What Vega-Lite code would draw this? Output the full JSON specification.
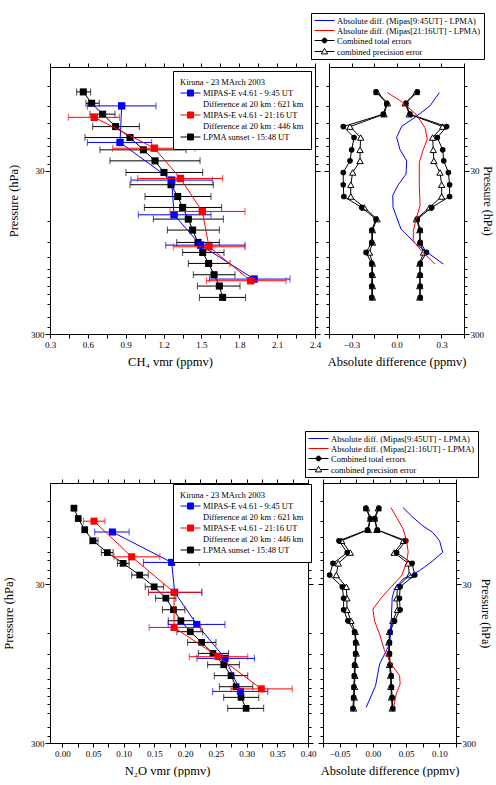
{
"$schema": "https://vega.github.io/schema/vega-lite/v6.json",
"padding": {"left": 2, "top": 12, "right": 0, "bottom": 0},
"background": "white",
"config": {
 "font": "Liberation Serif",
 "view": {"stroke": "black", "strokeWidth": 1},
 "axis": {"labelFont": "Liberation Serif", "titleFont": "Liberation Serif", "labelFontSize": 9, "titleFontSize": 12.5, "titleFontWeight": "normal", "labelColor": "black", "titleColor": "black", "domainColor": "black", "tickColor": "black", "grid": false, "tickSize": 3, "labelPadding": 2, "labelOverlap": false, "labelFlush": false},
 "legend": {"labelFont": "Liberation Serif", "titleFont": "Liberation Serif", "labelFontSize": 8.5, "titleFontSize": 8.5, "titleFontWeight": "normal", "labelColor": "black", "titleColor": "black", "strokeColor": "black", "fillColor": "white", "symbolStrokeWidth": 1, "symbolSize": 64, "labelLimit": 300, "rowPadding": 1, "labelOffset": 14}
},
"datasets": {
 "tl_l": [
  {"p":9.85,"x":0.564,"lo":0.511,"hi":0.622},{"p":11.56,"x":0.63,"lo":0.585,"hi":0.69},{"p":13.49,"x":0.717,"lo":0.617,"hi":0.815},{"p":16.07,"x":0.82,"lo":0.638,"hi":1.008},{"p":18.75,"x":0.934,"lo":0.577,"hi":1.29},{"p":22.31,"x":1.04,"lo":0.696,"hi":1.378},{"p":26.06,"x":1.132,"lo":0.775,"hi":1.489},{"p":30.7,"x":1.203,"lo":0.902,"hi":1.51},{"p":36.5,"x":1.259,"lo":0.934,"hi":1.594},{"p":43.1,"x":1.312,"lo":1.053,"hi":1.576},{"p":50.3,"x":1.351,"lo":1.048,"hi":1.66},{"p":59.3,"x":1.396,"lo":1.119,"hi":1.674},{"p":69.2,"x":1.43,"lo":1.23,"hi":1.642},{"p":82.4,"x":1.473,"lo":1.304,"hi":1.642},{"p":94.9,"x":1.51,"lo":1.351,"hi":1.679},{"p":110.8,"x":1.557,"lo":1.396,"hi":1.726},{"p":130,"x":1.6,"lo":1.436,"hi":1.766},{"p":152.5,"x":1.642,"lo":1.468,"hi":1.806},{"p":179,"x":1.668,"lo":1.484,"hi":1.85}
 ],
 "tl_b": [
  {"p":12.0,"x":0.868,"lo":0.596,"hi":1.14},{"p":20.1,"x":0.855,"lo":0.596,"hi":1.106},{"p":34.2,"x":1.264,"lo":0.942,"hi":1.586},{"p":55.8,"x":1.283,"lo":1.0,"hi":1.576},{"p":85.6,"x":1.494,"lo":1.217,"hi":1.845},{"p":138.2,"x":1.917,"lo":1.563,"hi":2.202}
 ],
 "tl_r": [
  {"p":14.1,"x":0.651,"lo":0.445,"hi":0.849},{"p":21.8,"x":1.127,"lo":0.797,"hi":1.449},{"p":33.4,"x":1.333,"lo":0.995,"hi":1.668},{"p":53.2,"x":1.507,"lo":1.251,"hi":1.845},{"p":87.6,"x":1.56,"lo":1.277,"hi":1.845},{"p":141.5,"x":1.89,"lo":1.541,"hi":2.17}
 ],
 "tr_e": [
  {"p":9.85,"tlo":-0.137,"thi":0.139,"plo":-0.13,"phi":0.132},{"p":11.56,"tlo":-0.065,"thi":0.063,"plo":-0.06,"phi":0.058},{"p":13.49,"tlo":-0.088,"thi":0.09,"plo":-0.083,"phi":0.085},{"p":16.07,"tlo":-0.355,"thi":0.334,"plo":-0.31,"phi":0.308},{"p":18.75,"tlo":-0.283,"thi":0.272,"plo":-0.239,"phi":0.241},{"p":22.31,"tlo":-0.299,"thi":0.308,"plo":-0.243,"phi":0.245},{"p":26.06,"tlo":-0.31,"thi":0.315,"plo":-0.243,"phi":0.249},{"p":30.7,"tlo":-0.355,"thi":0.346,"plo":-0.292,"phi":0.29},{"p":36.5,"tlo":-0.355,"thi":0.354,"plo":-0.305,"phi":0.301},{"p":43.1,"tlo":-0.351,"thi":0.354,"plo":-0.305,"phi":0.301},{"p":50.3,"tlo":-0.232,"thi":0.235,"plo":-0.215,"phi":0.22},{"p":59.3,"tlo":-0.137,"thi":0.139,"plo":-0.13,"phi":0.132},{"p":69.2,"tlo":-0.165,"thi":0.158,"plo":-0.16,"phi":0.155},{"p":82.4,"tlo":-0.165,"thi":0.158,"plo":-0.16,"phi":0.155},{"p":94.9,"tlo":-0.203,"thi":0.2,"plo":-0.18,"phi":0.18},{"p":110.8,"tlo":-0.165,"thi":0.158,"plo":-0.16,"phi":0.155},{"p":130,"tlo":-0.165,"thi":0.158,"plo":-0.16,"phi":0.155},{"p":152.5,"tlo":-0.165,"thi":0.158,"plo":-0.16,"phi":0.155},{"p":179,"tlo":-0.165,"thi":0.158,"plo":-0.16,"phi":0.155}
 ],
 "tr_b": [
  {"p":9.95,"v":0.286},{"p":12.0,"v":0.223},{"p":14.1,"v":0.123},{"p":16.0,"v":0.035},{"p":18.7,"v":0.001},{"p":22.2,"v":0.023},{"p":26.1,"v":0.068},{"p":31.5,"v":0.063},{"p":36.5,"v":0.012},{"p":42.4,"v":-0.025},{"p":50.3,"v":-0.023},{"p":68.3,"v":0.03},{"p":84.4,"v":0.13},{"p":111.8,"v":0.312}
 ],
 "tr_r": [
  {"p":9.95,"v":-0.061},{"p":11.3,"v":0.035},{"p":13.5,"v":0.13},{"p":16.3,"v":0.19},{"p":19.2,"v":0.205},{"p":22.7,"v":0.175},{"p":26.7,"v":0.152},{"p":36.9,"v":0.152},{"p":49,"v":0.157},{"p":59.5,"v":0.13},{"p":70.4,"v":0.112},{"p":80.5,"v":0.112},{"p":93.2,"v":0.168},{"p":111.8,"v":0.257}
 ],
 "bl_l": [
  {"p":9.98,"x":0.019,"lo":0.017,"hi":0.021},{"p":11.6,"x":0.026,"lo":0.023,"hi":0.029},{"p":13.65,"x":0.0365,"lo":0.033,"hi":0.04},{"p":16.0,"x":0.05,"lo":0.0452,"hi":0.0582},{"p":19.0,"x":0.0734,"lo":0.0636,"hi":0.0827},{"p":22.2,"x":0.099,"lo":0.0898,"hi":0.1088},{"p":26.3,"x":0.126,"lo":0.113,"hi":0.14},{"p":31.2,"x":0.1496,"lo":0.135,"hi":0.165},{"p":36.8,"x":0.1686,"lo":0.152,"hi":0.185},{"p":43.5,"x":0.181,"lo":0.163,"hi":0.1996},{"p":51.0,"x":0.193,"lo":0.1725,"hi":0.2138},{"p":59.8,"x":0.2084,"lo":0.1866,"hi":0.2285},{"p":69.8,"x":0.2268,"lo":0.204,"hi":0.2502},{"p":81.9,"x":0.2453,"lo":0.2214,"hi":0.2704},{"p":96.5,"x":0.2628,"lo":0.2366,"hi":0.2883},{"p":113,"x":0.2747,"lo":0.2475,"hi":0.3019},{"p":132.7,"x":0.2829,"lo":0.2557,"hi":0.3101},{"p":154.9,"x":0.291,"lo":0.2628,"hi":0.3199},{"p":181.6,"x":0.2992,"lo":0.2693,"hi":0.3278}
 ],
 "bl_b": [
  {"p":14.1,"x":0.0816,"lo":0.0528,"hi":0.1088},{"p":21.9,"x":0.178,"lo":0.1322,"hi":0.223},{"p":33.8,"x":0.183,"lo":0.1404,"hi":0.2274},{"p":53.8,"x":0.219,"lo":0.1724,"hi":0.2649},{"p":88.0,"x":0.265,"lo":0.2192,"hi":0.3128},{"p":142,"x":0.29,"lo":0.2448,"hi":0.3346}
 ],
 "bl_r": [
  {"p":12.05,"x":0.0517,"lo":0.0343,"hi":0.0696},{"p":20.2,"x":0.113,"lo":0.0843,"hi":0.1588},{"p":33.8,"x":0.182,"lo":0.1404,"hi":0.2268},{"p":56.2,"x":0.182,"lo":0.1414,"hi":0.2258},{"p":85.9,"x":0.254,"lo":0.2067,"hi":0.3019},{"p":137,"x":0.324,"lo":0.2747,"hi":0.3743}
 ],
 "br_e": [
  {"p":9.98,"tlo":-0.0105,"thi":0.009,"plo":-0.0095,"phi":0.008},{"p":11.6,"tlo":-0.004,"thi":0.003,"plo":-0.0035,"phi":0.0025},{"p":13.65,"tlo":-0.008,"thi":0.0065,"plo":-0.007,"phi":0.006},{"p":16.0,"tlo":-0.051,"thi":0.0496,"plo":-0.047,"phi":0.046},{"p":19.0,"tlo":-0.0386,"thi":0.0356,"plo":-0.034,"phi":0.032},{"p":22.2,"tlo":-0.06,"thi":0.059,"plo":-0.052,"phi":0.053},{"p":26.3,"tlo":-0.065,"thi":0.063,"plo":-0.055,"phi":0.055},{"p":31.2,"tlo":-0.046,"thi":0.041,"plo":-0.04,"phi":0.037},{"p":36.8,"tlo":-0.044,"thi":0.04,"plo":-0.039,"phi":0.036},{"p":43.5,"tlo":-0.044,"thi":0.041,"plo":-0.039,"phi":0.037},{"p":51.0,"tlo":-0.0376,"thi":0.0326,"plo":-0.033,"phi":0.03},{"p":59.8,"tlo":-0.0276,"thi":0.026,"plo":-0.0265,"phi":0.025},{"p":69.8,"tlo":-0.026,"thi":0.025,"plo":-0.025,"phi":0.024},{"p":81.9,"tlo":-0.026,"thi":0.025,"plo":-0.025,"phi":0.024},{"p":96.5,"tlo":-0.0276,"thi":0.026,"plo":-0.0265,"phi":0.025},{"p":113,"tlo":-0.028,"thi":0.0276,"plo":-0.027,"phi":0.0266},{"p":132.7,"tlo":-0.0286,"thi":0.028,"plo":-0.0276,"phi":0.027},{"p":154.9,"tlo":-0.029,"thi":0.029,"plo":-0.028,"phi":0.028},{"p":181.6,"tlo":-0.03,"thi":0.03,"plo":-0.029,"phi":0.029}
 ],
 "br_b": [
  {"p":9.88,"v":0.0451},{"p":11.4,"v":0.0602},{"p":12.9,"v":0.0752},{"p":14.2,"v":0.0902},{"p":16.0,"v":0.1003},{"p":18.95,"v":0.105},{"p":21.4,"v":0.0902},{"p":24.7,"v":0.0702},{"p":27.9,"v":0.0451},{"p":32.3,"v":0.0326},{"p":36.6,"v":0.029},{"p":49.8,"v":0.0278},{"p":71.6,"v":0.0251},{"p":82.7,"v":0.0176},{"p":95.6,"v":0.0101},{"p":131,"v":0.004},{"p":179,"v":-0.0101}
 ],
 "br_r": [
  {"p":9.88,"v":0.0271},{"p":11.4,"v":0.0356},{"p":13.5,"v":0.0456},{"p":16.0,"v":0.0507},{"p":18.8,"v":0.0531},{"p":21.9,"v":0.0507},{"p":26.6,"v":0.0432},{"p":30.9,"v":0.0286},{"p":36.4,"v":0.0131},{"p":43.1,"v":0.0},{"p":51.3,"v":0.0026},{"p":61.9,"v":0.0101},{"p":78.8,"v":0.0176},{"p":95.6,"v":0.0275},{"p":113,"v":0.0402},{"p":127.7,"v":0.041},{"p":147.6,"v":0.035},{"p":179,"v":0.0311}
 ]
},
"spacing": 62,
"resolve": {"scale": {"x": "independent", "y": "independent", "shape": "independent", "fill": "independent", "stroke": "independent"}, "legend": {"shape": "independent", "fill": "independent", "stroke": "independent"}},
"vconcat": [
 {
  "hconcat": [
   {
    "width": 265, "height": 267,
    "resolve": {"axis": {"x": "independent", "y": "independent"}},
    "layer": [
     {"data": {"name": "tl_l"}, "mark": {"type": "errorbar", "color": "black", "thickness": 1, "ticks": {"size": 7}},
      "encoding": {"x": {"field": "lo", "type": "quantitative", "scale": {"domain": [0.3, 2.4], "nice": false, "zero": false}, "axis": null}, "x2": {"field": "hi"}, "y": {"field": "p", "type": "quantitative", "scale": {"type": "log", "domain": [6.93, 300], "reverse": true, "nice": false}, "axis": null}}},
     {"data": {"name": "tl_l"}, "mark": {"type": "line", "color": "black", "strokeWidth": 1},
      "encoding": {"x": {"field": "x", "type": "quantitative", "scale": {"domain": [0.3, 2.4], "nice": false, "zero": false},
        "axis": {"orient": "bottom", "values": [0.3,0.45,0.6,0.75,0.9,1.05,1.2,1.35,1.5,1.65,1.8,1.95,2.1,2.25,2.4], "labelExpr": "abs(datum.value*10/3 - round(datum.value*10/3)) < 0.01 ? format(datum.value, '.1f') : ''", "title": "CH₄ vmr (ppmv)", "titlePadding": 6, "titleX": 120, "tickSize": 4}},
       "y": {"field": "p", "type": "quantitative", "scale": {"type": "log", "domain": [6.93, 300], "reverse": true, "nice": false},
        "axis": {"orient": "left", "values": [9.05,12,15.2,18.8,21.1,24.3,27.3,30,60.6,82.3,101.6,119.4,134.9,151.5,170.6,195.4,237.3,273,300], "format": ".0f", "labelExpr": "datum.value == 30 || datum.value == 300 ? datum.label : ''", "title": "Pressure (hPa)", "titlePadding": 10, "labelPadding": 1, "tickSize": {"condition": {"test": "datum.value == 30 || datum.value == 300", "value": 5}, "value": 3}}},
       "order": {"field": "p", "type": "quantitative"}}},
     {"data": {"name": "tl_l"}, "mark": {"type": "square", "color": "black", "size": 50, "opacity": 1},
      "encoding": {"x": {"field": "x", "type": "quantitative", "scale": {"domain": [0.3, 2.4], "nice": false, "zero": false},
        "axis": {"orient": "top", "values": [0.3,0.45,0.6,0.75,0.9,1.05,1.2,1.35,1.5,1.65,1.8,1.95,2.1,2.25,2.4], "labels": false, "title": null, "tickSize": 4}},
       "y": {"field": "p", "type": "quantitative", "scale": {"type": "log", "domain": [6.93, 300], "reverse": true, "nice": false},
        "axis": {"orient": "right", "values": [9.05,12,15.2,18.8,21.1,24.3,27.3,30,60.6,82.3,101.6,119.4,134.9,151.5,170.6,195.4,237.3,273,300], "labels": false, "title": null, "tickSize": {"condition": {"test": "datum.value == 30 || datum.value == 300", "value": 5}, "value": 3}}}}},
     {"data": {"name": "tl_b"}, "mark": {"type": "errorbar", "color": "#0000ff", "thickness": 1, "ticks": {"size": 7}},
      "encoding": {"x": {"field": "lo", "type": "quantitative", "axis": null}, "x2": {"field": "hi"}, "y": {"field": "p", "type": "quantitative", "axis": null}}},
     {"data": {"name": "tl_b"}, "mark": {"type": "line", "color": "#0000ff", "strokeWidth": 1},
      "encoding": {"x": {"field": "x", "type": "quantitative", "axis": null}, "y": {"field": "p", "type": "quantitative", "axis": null}, "order": {"field": "p", "type": "quantitative"}}},
     {"data": {"name": "tl_b"}, "mark": {"type": "square", "color": "#0000ff", "size": 55, "opacity": 1},
      "encoding": {"x": {"field": "x", "type": "quantitative", "axis": null}, "y": {"field": "p", "type": "quantitative", "axis": null}}},
     {"data": {"name": "tl_r"}, "mark": {"type": "errorbar", "color": "#ff0000", "thickness": 1, "ticks": {"size": 7}},
      "encoding": {"x": {"field": "lo", "type": "quantitative", "axis": null}, "x2": {"field": "hi"}, "y": {"field": "p", "type": "quantitative", "axis": null}}},
     {"data": {"name": "tl_r"}, "mark": {"type": "line", "color": "#ff0000", "strokeWidth": 1},
      "encoding": {"x": {"field": "x", "type": "quantitative", "axis": null}, "y": {"field": "p", "type": "quantitative", "axis": null}, "order": {"field": "p", "type": "quantitative"}}},
     {"data": {"name": "tl_r"}, "mark": {"type": "square", "color": "#ff0000", "size": 55, "opacity": 1},
      "encoding": {"x": {"field": "x", "type": "quantitative", "axis": null}, "y": {"field": "p", "type": "quantitative", "axis": null}}},
     {"data": {"values": []}, "mark": {"type": "point", "filled": true, "opacity": 1},
      "encoding": {
       "shape": {"field": "s1", "type": "nominal", "scale": {"domain": ["MIPAS-E v4.61 - 9:45 UT", "Difference at 20 km : 621 km", "MIPAS-E v4.61 - 21:16 UT", "Difference at 20 km : 446 km", "LPMA sunset - 15:48 UT"], "range": ["M-1,0H4M0.75,-0.75H2.25V0.75H0.75Z", "M-1,0H4", "M-1,0H4M0.75,-0.75H2.25V0.75H0.75Z", "M-1,0H4", "M-1,0H4M0.75,-0.75H2.25V0.75H0.75Z"]},
        "legend": {"title": "Kiruna -  23 MArch 2003", "orient": "none", "legendX": 123, "legendY": 4, "titlePadding": 2, "padding": 7}},
       "fill": {"field": "s1", "type": "nominal", "scale": {"domain": ["MIPAS-E v4.61 - 9:45 UT", "Difference at 20 km : 621 km", "MIPAS-E v4.61 - 21:16 UT", "Difference at 20 km : 446 km", "LPMA sunset - 15:48 UT"], "range": ["#0000ff", "transparent", "#ff0000", "transparent", "black"]},
        "legend": {"title": "Kiruna -  23 MArch 2003", "orient": "none", "legendX": 123, "legendY": 4, "titlePadding": 2, "padding": 7}},
       "stroke": {"field": "s1", "type": "nominal", "scale": {"domain": ["MIPAS-E v4.61 - 9:45 UT", "Difference at 20 km : 621 km", "MIPAS-E v4.61 - 21:16 UT", "Difference at 20 km : 446 km", "LPMA sunset - 15:48 UT"], "range": ["#0000ff", "transparent", "#ff0000", "transparent", "black"]},
        "legend": {"title": "Kiruna -  23 MArch 2003", "orient": "none", "legendX": 123, "legendY": 4, "titlePadding": 2, "padding": 7}}
      }}
    ]
   },
   {
    "width": 135, "height": 267,
    "resolve": {"axis": {"x": "independent", "y": "independent"}},
    "layer": [
     {"data": {"name": "tr_e"}, "transform": [{"fold": ["plo", "phi"], "as": ["side", "v"]}], "mark": {"type": "line", "color": "black", "strokeWidth": 1},
      "encoding": {"x": {"field": "v", "type": "quantitative", "scale": {"domain": [-0.45, 0.45], "nice": false, "zero": false},
        "axis": {"orient": "bottom", "values": [-0.45,-0.3,-0.15,0,0.15,0.3,0.45], "labelExpr": "abs(datum.value*10/3 - round(datum.value*10/3)) < 0.01 ? format(datum.value, '.1f') : ''", "title": "Absolute difference (ppmv)", "titlePadding": 6, "tickSize": 4}},
       "y": {"field": "p", "type": "quantitative", "scale": {"type": "log", "domain": [6.93, 300], "reverse": true, "nice": false},
        "axis": {"orient": "right", "values": [9.05,12,15.2,18.8,21.1,24.3,27.3,30,60.6,82.3,101.6,119.4,134.9,151.5,170.6,195.4,237.3,273,300], "format": ".0f", "labelExpr": "datum.value == 30 || datum.value == 300 ? datum.label : ''", "title": "Pressure (hPa)", "titleFontSize": 12, "titlePadding": -3, "labelPadding": 1, "tickSize": {"condition": {"test": "datum.value == 30 || datum.value == 300", "value": 5}, "value": 3}}},
       "detail": {"field": "side"}, "order": {"field": "p", "type": "quantitative"}}},
     {"data": {"name": "tr_e"}, "transform": [{"fold": ["plo", "phi"], "as": ["side", "v"]}], "mark": {"type": "point", "shape": "triangle-up", "filled": true, "fill": "white", "stroke": "black", "strokeWidth": 1, "size": 40, "opacity": 1},
      "encoding": {"x": {"field": "v", "type": "quantitative", "axis": null}, "y": {"field": "p", "type": "quantitative", "axis": null}}},
     {"data": {"name": "tr_e"}, "transform": [{"fold": ["tlo", "thi"], "as": ["side", "v"]}], "mark": {"type": "line", "color": "black", "strokeWidth": 1},
      "encoding": {"x": {"field": "v", "type": "quantitative", "scale": {"domain": [-0.45, 0.45], "nice": false, "zero": false},
        "axis": {"orient": "top", "values": [-0.45,-0.3,-0.15,0,0.15,0.3,0.45], "labels": false, "title": null, "tickSize": 4}},
       "y": {"field": "p", "type": "quantitative", "scale": {"type": "log", "domain": [6.93, 300], "reverse": true, "nice": false},
        "axis": {"orient": "left", "values": [9.05,12,15.2,18.8,21.1,24.3,27.3,30,60.6,82.3,101.6,119.4,134.9,151.5,170.6,195.4,237.3,273,300], "labels": false, "title": null, "tickSize": {"condition": {"test": "datum.value == 30 || datum.value == 300", "value": 5}, "value": 3}}},
       "detail": {"field": "side"}, "order": {"field": "p", "type": "quantitative"}}},
     {"data": {"name": "tr_e"}, "transform": [{"fold": ["tlo", "thi"], "as": ["side", "v"]}], "mark": {"type": "circle", "color": "black", "size": 32, "opacity": 1},
      "encoding": {"x": {"field": "v", "type": "quantitative", "axis": null}, "y": {"field": "p", "type": "quantitative", "axis": null}}},
     {"data": {"name": "tr_b"}, "mark": {"type": "line", "color": "#0000ff", "strokeWidth": 1},
      "encoding": {"x": {"field": "v", "type": "quantitative", "axis": null}, "y": {"field": "p", "type": "quantitative", "axis": null}, "order": {"field": "p", "type": "quantitative"}}},
     {"data": {"name": "tr_r"}, "mark": {"type": "line", "color": "#ff0000", "strokeWidth": 1},
      "encoding": {"x": {"field": "v", "type": "quantitative", "axis": null}, "y": {"field": "p", "type": "quantitative", "axis": null}, "order": {"field": "p", "type": "quantitative"}}},
     {"data": {"values": []}, "mark": {"type": "point", "filled": true, "opacity": 1},
      "encoding": {
       "shape": {"field": "s2", "type": "nominal", "scale": {"domain": ["Absolute diff. (Mipas[9:45UT] - LPMA)", "Absolute diff. (Mipas[21:16UT] - LPMA)", "Combined total errors", "combined precision error"], "range": ["M-1,0H4", "M-1,0H4", "M-1,0H4M0.9,0A0.6,0.6,0,1,1,2.1,0A0.6,0.6,0,1,1,0.9,0Z", "M-1,0H1.04M1.96,0H4M1.5,-0.8L2.3,0.6H0.7Z"]},
        "legend": {"title": null, "orient": "none", "legendX": -18, "legendY": -54, "padding": 3}},
       "fill": {"field": "s2", "type": "nominal", "scale": {"domain": ["Absolute diff. (Mipas[9:45UT] - LPMA)", "Absolute diff. (Mipas[21:16UT] - LPMA)", "Combined total errors", "combined precision error"], "range": ["transparent", "transparent", "black", "white"]},
        "legend": {"title": null, "orient": "none", "legendX": -18, "legendY": -54, "padding": 3}},
       "stroke": {"field": "s2", "type": "nominal", "scale": {"domain": ["Absolute diff. (Mipas[9:45UT] - LPMA)", "Absolute diff. (Mipas[21:16UT] - LPMA)", "Combined total errors", "combined precision error"], "range": ["#0000ff", "#ff0000", "black", "black"]},
        "legend": {"title": null, "orient": "none", "legendX": -18, "legendY": -54, "padding": 3}}
      }}
    ]
   }
  ],
  "spacing": 14,
  "bounds": "flush",
  "resolve": {"scale": {"x": "independent", "y": "independent", "shape": "independent", "fill": "independent", "stroke": "independent"}, "legend": {"shape": "independent", "fill": "independent", "stroke": "independent"}}
 },
 {
  "hconcat": [
   {
    "width": 258, "height": 260,
    "resolve": {"axis": {"x": "independent", "y": "independent"}},
    "layer": [
     {"data": {"name": "bl_l"}, "mark": {"type": "errorbar", "color": "black", "thickness": 1, "ticks": {"size": 7}},
      "encoding": {"x": {"field": "lo", "type": "quantitative", "scale": {"domain": [-0.02, 0.4], "nice": false, "zero": false}, "axis": null}, "x2": {"field": "hi"}, "y": {"field": "p", "type": "quantitative", "scale": {"type": "log", "domain": [6.93, 300], "reverse": true, "nice": false}, "axis": null}}},
     {"data": {"name": "bl_l"}, "mark": {"type": "line", "color": "black", "strokeWidth": 1},
      "encoding": {"x": {"field": "x", "type": "quantitative", "scale": {"domain": [-0.02, 0.4], "nice": false, "zero": false},
        "axis": {"orient": "bottom", "values": [0,0.025,0.05,0.075,0.1,0.125,0.15,0.175,0.2,0.225,0.25,0.275,0.3,0.325,0.35,0.375,0.4], "labelExpr": "abs(datum.value*20 - round(datum.value*20)) < 0.01 ? format(datum.value, '.2f') : ''", "title": "N₂O vmr (ppmv)", "titlePadding": 6, "titleX": 117, "tickSize": 4}},
       "y": {"field": "p", "type": "quantitative", "scale": {"type": "log", "domain": [6.93, 300], "reverse": true, "nice": false},
        "axis": {"orient": "left", "values": [9.05,12,15.2,18.8,21.1,24.3,27.3,30,60.6,82.3,101.6,119.4,134.9,151.5,170.6,195.4,237.3,273,300], "format": ".0f", "labelExpr": "datum.value == 30 || datum.value == 300 ? datum.label : ''", "title": "Pressure (hPa)", "titlePadding": 15, "labelPadding": 1, "tickSize": {"condition": {"test": "datum.value == 30 || datum.value == 300", "value": 5}, "value": 3}}},
       "order": {"field": "p", "type": "quantitative"}}},
     {"data": {"name": "bl_l"}, "mark": {"type": "square", "color": "black", "size": 45, "opacity": 1},
      "encoding": {"x": {"field": "x", "type": "quantitative", "scale": {"domain": [-0.02, 0.4], "nice": false, "zero": false},
        "axis": {"orient": "top", "values": [0,0.025,0.05,0.075,0.1,0.125,0.15,0.175,0.2,0.225,0.25,0.275,0.3,0.325,0.35,0.375,0.4], "labels": false, "title": null, "tickSize": 4}},
       "y": {"field": "p", "type": "quantitative", "scale": {"type": "log", "domain": [6.93, 300], "reverse": true, "nice": false},
        "axis": {"orient": "right", "values": [9.05,12,15.2,18.8,21.1,24.3,27.3,30,60.6,82.3,101.6,119.4,134.9,151.5,170.6,195.4,237.3,273,300], "labels": false, "title": null, "tickSize": {"condition": {"test": "datum.value == 30 || datum.value == 300", "value": 5}, "value": 3}}}}},
     {"data": {"name": "bl_b"}, "mark": {"type": "errorbar", "color": "#0000ff", "thickness": 1, "ticks": {"size": 7}},
      "encoding": {"x": {"field": "lo", "type": "quantitative", "axis": null}, "x2": {"field": "hi"}, "y": {"field": "p", "type": "quantitative", "axis": null}}},
     {"data": {"name": "bl_b"}, "mark": {"type": "line", "color": "#0000ff", "strokeWidth": 1},
      "encoding": {"x": {"field": "x", "type": "quantitative", "axis": null}, "y": {"field": "p", "type": "quantitative", "axis": null}, "order": {"field": "p", "type": "quantitative"}}},
     {"data": {"name": "bl_b"}, "mark": {"type": "square", "color": "#0000ff", "size": 50, "opacity": 1},
      "encoding": {"x": {"field": "x", "type": "quantitative", "axis": null}, "y": {"field": "p", "type": "quantitative", "axis": null}}},
     {"data": {"name": "bl_r"}, "mark": {"type": "errorbar", "color": "#ff0000", "thickness": 1, "ticks": {"size": 7}},
      "encoding": {"x": {"field": "lo", "type": "quantitative", "axis": null}, "x2": {"field": "hi"}, "y": {"field": "p", "type": "quantitative", "axis": null}}},
     {"data": {"name": "bl_r"}, "mark": {"type": "line", "color": "#ff0000", "strokeWidth": 1},
      "encoding": {"x": {"field": "x", "type": "quantitative", "axis": null}, "y": {"field": "p", "type": "quantitative", "axis": null}, "order": {"field": "p", "type": "quantitative"}}},
     {"data": {"name": "bl_r"}, "mark": {"type": "square", "color": "#ff0000", "size": 50, "opacity": 1},
      "encoding": {"x": {"field": "x", "type": "quantitative", "axis": null}, "y": {"field": "p", "type": "quantitative", "axis": null}}},
     {"data": {"values": []}, "mark": {"type": "point", "filled": true, "opacity": 1},
      "encoding": {
       "shape": {"field": "s3", "type": "nominal", "scale": {"domain": ["MIPAS-E v4.61 - 9:45 UT", "Difference at 20 km : 621 km", "MIPAS-E v4.61 - 21:16 UT", "Difference at 20 km : 446 km", "LPMA sunset - 15:48 UT"], "range": ["M-1,0H4M0.75,-0.75H2.25V0.75H0.75Z", "M-1,0H4", "M-1,0H4M0.75,-0.75H2.25V0.75H0.75Z", "M-1,0H4", "M-1,0H4M0.75,-0.75H2.25V0.75H0.75Z"]},
        "legend": {"title": "Kiruna -  23 MArch 2003", "orient": "none", "legendX": 123, "legendY": 1, "titlePadding": 2, "padding": 7}},
       "fill": {"field": "s3", "type": "nominal", "scale": {"domain": ["MIPAS-E v4.61 - 9:45 UT", "Difference at 20 km : 621 km", "MIPAS-E v4.61 - 21:16 UT", "Difference at 20 km : 446 km", "LPMA sunset - 15:48 UT"], "range": ["#0000ff", "transparent", "#ff0000", "transparent", "black"]},
        "legend": {"title": "Kiruna -  23 MArch 2003", "orient": "none", "legendX": 123, "legendY": 1, "titlePadding": 2, "padding": 7}},
       "stroke": {"field": "s3", "type": "nominal", "scale": {"domain": ["MIPAS-E v4.61 - 9:45 UT", "Difference at 20 km : 621 km", "MIPAS-E v4.61 - 21:16 UT", "Difference at 20 km : 446 km", "LPMA sunset - 15:48 UT"], "range": ["#0000ff", "transparent", "#ff0000", "transparent", "black"]},
        "legend": {"title": "Kiruna -  23 MArch 2003", "orient": "none", "legendX": 123, "legendY": 1, "titlePadding": 2, "padding": 7}}
      }}
    ]
   },
   {
    "width": 133, "height": 260,
    "resolve": {"axis": {"x": "independent", "y": "independent"}},
    "layer": [
     {"data": {"name": "br_e"}, "transform": [{"fold": ["plo", "phi"], "as": ["side", "v"]}], "mark": {"type": "line", "color": "black", "strokeWidth": 1},
      "encoding": {"x": {"field": "v", "type": "quantitative", "scale": {"domain": [-0.075, 0.125], "nice": false, "zero": false},
        "axis": {"orient": "bottom", "values": [-0.075,-0.05,-0.025,0,0.025,0.05,0.075,0.1,0.125], "labelExpr": "abs(datum.value*20 - round(datum.value*20)) < 0.01 ? format(datum.value, '.2f') : ''", "title": "Absolute difference (ppmv)", "titlePadding": 6, "tickSize": 4}},
       "y": {"field": "p", "type": "quantitative", "scale": {"type": "log", "domain": [6.93, 300], "reverse": true, "nice": false},
        "axis": {"orient": "right", "values": [9.05,12,15.2,18.8,21.1,24.3,27.3,30,60.6,82.3,101.6,119.4,134.9,151.5,170.6,195.4,237.3,273,300], "format": ".0f", "labelExpr": "datum.value == 30 || datum.value == 300 ? datum.label : ''", "title": "Pressure (hPa)", "titleFontSize": 12, "titlePadding": 3, "labelPadding": 1, "tickSize": {"condition": {"test": "datum.value == 30 || datum.value == 300", "value": 5}, "value": 3}}},
       "detail": {"field": "side"}, "order": {"field": "p", "type": "quantitative"}}},
     {"data": {"name": "br_e"}, "transform": [{"fold": ["plo", "phi"], "as": ["side", "v"]}], "mark": {"type": "point", "shape": "triangle-up", "filled": true, "fill": "white", "stroke": "black", "strokeWidth": 1, "size": 40, "opacity": 1},
      "encoding": {"x": {"field": "v", "type": "quantitative", "axis": null}, "y": {"field": "p", "type": "quantitative", "axis": null}}},
     {"data": {"name": "br_e"}, "transform": [{"fold": ["tlo", "thi"], "as": ["side", "v"]}], "mark": {"type": "line", "color": "black", "strokeWidth": 1},
      "encoding": {"x": {"field": "v", "type": "quantitative", "scale": {"domain": [-0.075, 0.125], "nice": false, "zero": false},
        "axis": {"orient": "top", "values": [-0.075,-0.05,-0.025,0,0.025,0.05,0.075,0.1,0.125], "labels": false, "title": null, "tickSize": 4}},
       "y": {"field": "p", "type": "quantitative", "scale": {"type": "log", "domain": [6.93, 300], "reverse": true, "nice": false},
        "axis": {"orient": "left", "values": [9.05,12,15.2,18.8,21.1,24.3,27.3,30,60.6,82.3,101.6,119.4,134.9,151.5,170.6,195.4,237.3,273,300], "labels": false, "title": null, "tickSize": {"condition": {"test": "datum.value == 30 || datum.value == 300", "value": 5}, "value": 3}}},
       "detail": {"field": "side"}, "order": {"field": "p", "type": "quantitative"}}},
     {"data": {"name": "br_e"}, "transform": [{"fold": ["tlo", "thi"], "as": ["side", "v"]}], "mark": {"type": "circle", "color": "black", "size": 32, "opacity": 1},
      "encoding": {"x": {"field": "v", "type": "quantitative", "axis": null}, "y": {"field": "p", "type": "quantitative", "axis": null}}},
     {"data": {"name": "br_b"}, "mark": {"type": "line", "color": "#0000ff", "strokeWidth": 1},
      "encoding": {"x": {"field": "v", "type": "quantitative", "axis": null}, "y": {"field": "p", "type": "quantitative", "axis": null}, "order": {"field": "p", "type": "quantitative"}}},
     {"data": {"name": "br_r"}, "mark": {"type": "line", "color": "#ff0000", "strokeWidth": 1},
      "encoding": {"x": {"field": "v", "type": "quantitative", "axis": null}, "y": {"field": "p", "type": "quantitative", "axis": null}, "order": {"field": "p", "type": "quantitative"}}},
     {"data": {"values": []}, "mark": {"type": "point", "filled": true, "opacity": 1},
      "encoding": {
       "shape": {"field": "s4", "type": "nominal", "scale": {"domain": ["Absolute diff. (Mipas[9:45UT] - LPMA)", "Absolute diff. (Mipas[21:16UT] - LPMA)", "Combined total errors", "combined precision error"], "range": ["M-1,0H4", "M-1,0H4", "M-1,0H4M0.9,0A0.6,0.6,0,1,1,2.1,0A0.6,0.6,0,1,1,0.9,0Z", "M-1,0H1.04M1.96,0H4M1.5,-0.8L2.3,0.6H0.7Z"]},
        "legend": {"title": null, "orient": "none", "legendX": -18, "legendY": -52, "padding": 3}},
       "fill": {"field": "s4", "type": "nominal", "scale": {"domain": ["Absolute diff. (Mipas[9:45UT] - LPMA)", "Absolute diff. (Mipas[21:16UT] - LPMA)", "Combined total errors", "combined precision error"], "range": ["transparent", "transparent", "black", "white"]},
        "legend": {"title": null, "orient": "none", "legendX": -18, "legendY": -52, "padding": 3}},
       "stroke": {"field": "s4", "type": "nominal", "scale": {"domain": ["Absolute diff. (Mipas[9:45UT] - LPMA)", "Absolute diff. (Mipas[21:16UT] - LPMA)", "Combined total errors", "combined precision error"], "range": ["#0000ff", "#ff0000", "black", "black"]},
        "legend": {"title": null, "orient": "none", "legendX": -18, "legendY": -52, "padding": 3}}
      }}
    ]
   }
  ],
  "spacing": 15,
  "bounds": "flush",
  "resolve": {"scale": {"x": "independent", "y": "independent", "shape": "independent", "fill": "independent", "stroke": "independent"}, "legend": {"shape": "independent", "fill": "independent", "stroke": "independent"}}
 }
]
}
